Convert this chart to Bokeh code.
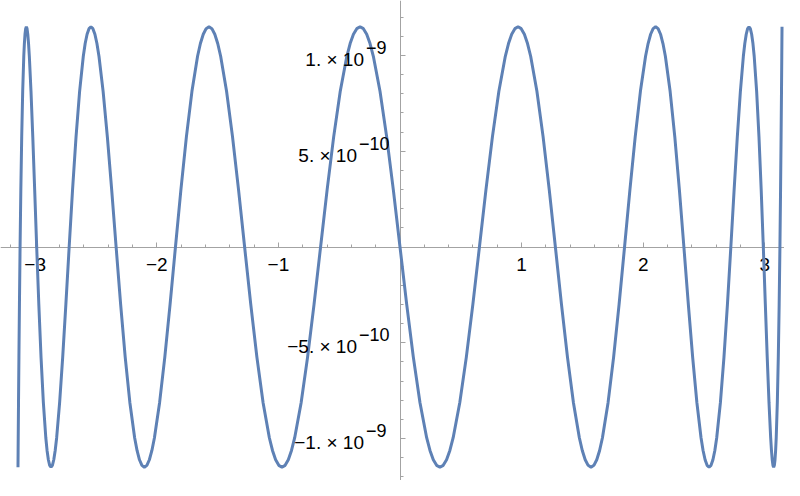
from bokeh.plotting import figure
from bokeh.models import Range1d, LinearAxis, FixedTicker, ColumnDataSource, CustomJSTickFormatter
from bokeh.embed import file_html
from bokeh.resources import INLINE
from bokeh.core.properties import value

# curve samples (x, and y in units of 1e-9), one row per half-wave
x_vals = [
    -3.1416, -3.1415, -3.1411, -3.1405, -3.1397, -3.1373, -3.1339, -3.1296, -3.1244, -3.1182, -3.1110, -3.1029, -3.0939, -3.0890, -3.0839, -3.0785,
    -3.0729, -3.0671, -3.0611, -3.0548, -3.0483, -3.0346, -3.0199, -3.0043, -2.9878, -2.9704, -2.9521, -2.9329, -2.9128, -2.9025, -2.8918, -2.8810,
    -2.8700, -2.8587, -2.8473, -2.8356, -2.8236, -2.7992, -2.7739, -2.7477, -2.7207, -2.6929, -2.6642, -2.6348, -2.6045, -2.5891, -2.5734, -2.5576,
    -2.5416, -2.5254, -2.5090, -2.4924, -2.4756, -2.4415, -2.4066, -2.3710, -2.3346, -2.2976, -2.2599, -2.2214, -2.1823, -2.1625, -2.1426, -2.1224,
    -2.1021, -2.0817, -2.0611, -2.0403, -2.0194, -1.9771, -1.9342, -1.8907, -1.8466, -1.8019, -1.7567, -1.7110, -1.6648, -1.6415, -1.6180, -1.5945,
    -1.5708, -1.5470, -1.5231, -1.4990, -1.4749, -1.4263, -1.3772, -1.3277, -1.2778, -1.2275, -1.1769, -1.1259, -1.0745, -1.0487, -1.0228, -0.9968,
    -0.9708, -0.9447, -0.9185, -0.8923, -0.8660, -0.8131, -0.7600, -0.7067, -0.6532, -0.5994, -0.5455, -0.4914, -0.4372, -0.4101, -0.3829, -0.3556,
    -0.3284, -0.3011, -0.2738, -0.2465, -0.2192, -0.1644, -0.1096, -0.0548, 0.0, 0.0548, 0.1096, 0.1644, 0.2192, 0.2465, 0.2738, 0.3011,
    0.3284, 0.3556, 0.3829, 0.4101, 0.4372, 0.4914, 0.5455, 0.5994, 0.6532, 0.7067, 0.7600, 0.8131, 0.8660, 0.8923, 0.9185, 0.9447,
    0.9708, 0.9968, 1.0228, 1.0487, 1.0745, 1.1259, 1.1769, 1.2275, 1.2778, 1.3277, 1.3772, 1.4263, 1.4749, 1.4990, 1.5231, 1.5470,
    1.5708, 1.5945, 1.6180, 1.6415, 1.6648, 1.7110, 1.7567, 1.8019, 1.8466, 1.8907, 1.9342, 1.9771, 2.0194, 2.0403, 2.0611, 2.0817,
    2.1021, 2.1224, 2.1426, 2.1625, 2.1823, 2.2214, 2.2599, 2.2976, 2.3346, 2.3710, 2.4066, 2.4415, 2.4756, 2.4924, 2.5090, 2.5254,
    2.5416, 2.5576, 2.5734, 2.5891, 2.6045, 2.6348, 2.6642, 2.6929, 2.7207, 2.7477, 2.7739, 2.7992, 2.8236, 2.8356, 2.8473, 2.8587,
    2.8700, 2.8810, 2.8918, 2.9025, 2.9128, 2.9329, 2.9521, 2.9704, 2.9878, 3.0043, 3.0199, 3.0346, 3.0483, 3.0548, 3.0611, 3.0671,
    3.0729, 3.0785, 3.0839, 3.0890, 3.0939, 3.1029, 3.1110, 3.1182, 3.1244, 3.1296, 3.1339, 3.1373, 3.1397, 3.1405, 3.1411, 3.1415,
    3.1416,
]

y_nano = [
    -1.15, -1.1402, -1.111, -1.0625, -0.996, -0.813, -0.575, -0.298, 0.0, 0.298, 0.575, 0.813, 0.996, 1.0625, 1.111, 1.1402,
    1.15, 1.1402, 1.111, 1.0625, 0.996, 0.813, 0.575, 0.298, 0.0, -0.298, -0.575, -0.813, -0.996, -1.0625, -1.111, -1.1402,
    -1.15, -1.1402, -1.111, -1.0625, -0.996, -0.813, -0.575, -0.298, 0.0, 0.298, 0.575, 0.813, 0.996, 1.0625, 1.111, 1.1402,
    1.15, 1.1402, 1.111, 1.0625, 0.996, 0.813, 0.575, 0.298, 0.0, -0.298, -0.575, -0.813, -0.996, -1.0625, -1.111, -1.1402,
    -1.15, -1.1402, -1.111, -1.0625, -0.996, -0.813, -0.575, -0.298, 0.0, 0.298, 0.575, 0.813, 0.996, 1.0625, 1.111, 1.1402,
    1.15, 1.1402, 1.111, 1.0625, 0.996, 0.813, 0.575, 0.298, 0.0, -0.298, -0.575, -0.813, -0.996, -1.0625, -1.111, -1.1402,
    -1.15, -1.1402, -1.111, -1.0625, -0.996, -0.813, -0.575, -0.298, 0.0, 0.298, 0.575, 0.813, 0.996, 1.0625, 1.111, 1.1402,
    1.15, 1.1402, 1.111, 1.0625, 0.996, 0.813, 0.575, 0.298, 0.0, -0.298, -0.575, -0.813, -0.996, -1.0625, -1.111, -1.1402,
    -1.15, -1.1402, -1.111, -1.0625, -0.996, -0.813, -0.575, -0.298, 0.0, 0.298, 0.575, 0.813, 0.996, 1.0625, 1.111, 1.1402,
    1.15, 1.1402, 1.111, 1.0625, 0.996, 0.813, 0.575, 0.298, 0.0, -0.298, -0.575, -0.813, -0.996, -1.0625, -1.111, -1.1402,
    -1.15, -1.1402, -1.111, -1.0625, -0.996, -0.813, -0.575, -0.298, 0.0, 0.298, 0.575, 0.813, 0.996, 1.0625, 1.111, 1.1402,
    1.15, 1.1402, 1.111, 1.0625, 0.996, 0.813, 0.575, 0.298, 0.0, -0.298, -0.575, -0.813, -0.996, -1.0625, -1.111, -1.1402,
    -1.15, -1.1402, -1.111, -1.0625, -0.996, -0.813, -0.575, -0.298, 0.0, 0.298, 0.575, 0.813, 0.996, 1.0625, 1.111, 1.1402,
    1.15, 1.1402, 1.111, 1.0625, 0.996, 0.813, 0.575, 0.298, 0.0, -0.298, -0.575, -0.813, -0.996, -1.0625, -1.111, -1.1402,
    -1.15, -1.1402, -1.111, -1.0625, -0.996, -0.813, -0.575, -0.298, 0.0, 0.298, 0.575, 0.813, 0.996, 1.0625, 1.111, 1.1402,
    1.15,
]

x_major = [-3, -2, -1, 1, 2, 3]
x_tick_labels = ["\u22123", "\u22122", "\u22121", "1", "2", "3"]
x_minor = [-3.2, -3.0, -2.8, -2.6, -2.4, -2.2, -2.0, -1.8, -1.6, -1.4, -1.2, -1.0, -0.8, -0.6,
           -0.4, -0.2, 0.2, 0.4, 0.6, 0.8, 1.0, 1.2, 1.4, 1.6, 1.8, 2.0, 2.2, 2.4, 2.6, 2.8,
           3.0, 3.2]

y_major_nano = [1.0, 0.5, -0.5, -1.0]
y_label_base = ["1. \u00d7 10", "5. \u00d7 10", "\u22125. \u00d7 10", "\u22121. \u00d7 10"]
y_label_exp = ["\u22129", "\u221210", "\u221210", "\u22129"]
y_minor_nano = [-1.2, -1.1, -1.0, -0.9, -0.8, -0.7, -0.6, -0.5, -0.4, -0.3, -0.2, -0.1,
                0.1, 0.2, 0.3, 0.4, 0.5, 0.6, 0.7, 0.8, 0.9, 1.0, 1.1, 1.2]

NANO = 1e-9
ys = [v * NANO for v in y_nano]
y_major = [v * NANO for v in y_major_nano]
y_minor = [v * NANO for v in y_minor_nano]

FONT = "Liberation Sans"
AXIS_COLOR = "#a3a3a3"

p = figure(width=784, height=480,
           x_range=Range1d(-3.2854, 3.1620),
           y_range=Range1d(-1.2193e-9, 1.2872e-9),
           output_backend="svg", toolbar_location=None,
           x_axis_location=None, y_axis_location=None,
           min_border=0, outline_line_color=None)
p.grid.grid_line_color = None

xaxis = LinearAxis(fixed_location=0,
                   ticker=FixedTicker(ticks=x_major, minor_ticks=x_minor),
                   major_label_overrides={t: s for t, s in zip(x_major, x_tick_labels)})
xaxis.axis_line_color = AXIS_COLOR
xaxis.major_tick_line_color = AXIS_COLOR
xaxis.minor_tick_line_color = AXIS_COLOR
xaxis.major_tick_in = 5
xaxis.major_tick_out = 0
xaxis.minor_tick_in = 3
xaxis.minor_tick_out = 0
xaxis.major_label_standoff = 11
xaxis.major_label_text_font = FONT
xaxis.major_label_text_font_size = "19px"
xaxis.major_label_text_color = "black"
xaxis.level = "underlay"
p.add_layout(xaxis, "below")

yaxis = LinearAxis(fixed_location=0,
                   ticker=FixedTicker(ticks=y_major, minor_ticks=y_minor),
                   formatter=CustomJSTickFormatter(code="return ''"))
yaxis.axis_line_color = AXIS_COLOR
yaxis.major_tick_line_color = AXIS_COLOR
yaxis.minor_tick_line_color = AXIS_COLOR
yaxis.major_tick_in = 5
yaxis.major_tick_out = 0
yaxis.minor_tick_in = 3
yaxis.minor_tick_out = 0
yaxis.level = "underlay"
p.add_layout(yaxis, "left")

p.line(x_vals, ys, line_color="#5E81B5", line_width=3)

# where the mantissa ends / exponent starts, in px left of the y axis (longer exponents push it left)
split_px = [-36 if len(e) == 2 else -43 for e in y_label_exp]
lab = ColumnDataSource(dict(x=[0] * len(y_major), y=y_major, base=y_label_base, exp=y_label_exp,
                            dx=split_px, dx2=[d + 2 for d in split_px]))
p.text(x="x", y="y", text="base", source=lab, text_font=value(FONT), text_font_size="19px",
       text_align="right", text_baseline="alphabetic", x_offset="dx", y_offset=4, text_color="black")
p.text(x="x", y="y", text="exp", source=lab, text_font=value(FONT), text_font_size="18px",
       text_align="left", text_baseline="alphabetic", x_offset="dx2", y_offset=-8, text_color="black")

open("out.html", "w").write(file_html(p, INLINE))
